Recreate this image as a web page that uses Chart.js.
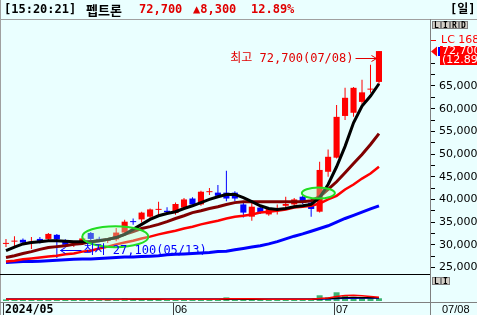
<!DOCTYPE html>
<html>
<head>
<meta charset="utf-8">
<script src="https://cdn.jsdelivr.net/npm/chart.js@4.4.1/dist/chart.umd.min.js"></script>
<style>
  body { margin: 0; background: #eaffff; }
  canvas { display: block; }
</style>
</head>
<body>
<canvas id="chart" width="477" height="315"></canvas>
<script>
// 펩트론 daily candles, 2024/05/02 ~ 2024/07/08
const dates = ["05/02","05/03","05/07","05/08","05/09","05/10","05/13","05/14","05/16","05/17",
  "05/20","05/21","05/22","05/23","05/24","05/27","05/28","05/29","05/30","05/31",
  "06/03","06/04","06/05","06/07","06/10","06/11","06/12","06/13","06/14","06/17",
  "06/18","06/19","06/20","06/21","06/24","06/25","06/26","06/27","06/28",
  "07/01","07/02","07/03","07/04","07/05","07/08"];

const opens  = [30200,30700,31100,30500,31300,31300,32200,31000,30000,30500,32600,31300,30900,31200,32700,35200,35600,36200,37700,37500,
  37000,38200,40200,38900,41600,41500,41500,41500,38900,36200,38200,36700,37900,38600,38900,40600,39300,37300,46100,49200,58400,59100,61500,64200,65900];
const highs  = [31300,31900,31400,31700,31700,32600,32400,31200,30500,31800,32800,31800,31500,33700,35500,35800,37300,38000,39500,38300,
  39300,40300,40500,41900,42500,43200,46300,41800,39300,39500,38500,38300,38900,40600,40300,40800,40000,48300,51000,60800,64600,64800,66400,69700,72700];
const lows   = [29500,29700,30000,29100,30300,31000,27100,29700,29500,30300,31000,30600,30400,30800,32400,34400,34900,35800,36200,36800,
  36600,38000,38400,38600,41000,40500,39600,39600,36000,35300,36800,36400,36700,37600,38500,39000,36200,37100,45000,49000,57500,58200,60900,63500,65400];
const closes = [30300,30800,30500,30600,30600,32400,31200,30000,30100,31400,31300,31100,31200,32700,35100,35000,37100,37800,37800,37200,
  39000,40000,38900,41700,41700,40800,40200,40200,37100,38400,37100,38000,38000,39000,40000,39300,37900,46500,49400,58200,62400,64600,63600,64400,72700];

// moving averages as drawn on the chart
const ma5  = [28700,29500,30200,30500,30700,30900,30900,30800,30700,30700,30700,30900,31200,31600,32300,33400,34500,35600,36400,36900,
  37300,38000,38600,39300,40000,40600,41100,41100,40400,39500,38600,38000,37800,38000,38400,38600,38900,40400,43300,47200,51700,56900,60600,62800,65500];
const ma10 = [27200,27600,28100,28500,29000,29400,29600,29800,30100,30300,30700,30900,31200,31600,32300,32900,33600,34000,34500,35100,
  35800,36400,37100,37500,38000,38400,38900,39300,39500,39500,39500,39500,39500,39500,39500,39500,39700,40600,42200,43900,45900,47900,49900,52100,54500];
const ma20 = [26300,26500,26800,27000,27200,27400,27600,27900,28100,28500,28700,29200,29600,30100,30500,30900,31400,31800,32300,32700,
  33100,33600,34000,34500,34900,35300,35800,36200,36400,36700,37100,37300,37500,37800,38200,38400,38600,39100,40000,40800,42200,43300,44600,45700,47200];
const ma60 = [26100,26200,26300,26300,26400,26500,26600,26700,26800,26900,26900,27000,27100,27200,27300,27300,27400,27500,27600,27800,
  27900,28000,28100,28200,28300,28500,28600,28900,29200,29500,29800,30200,30700,31300,31900,32400,33000,33600,34200,35000,35800,36500,37200,37900,38600];

// volume (thousand shares) and its averages
const volumes = [62,66,60,64,58,70,72,60,55,62,66,58,60,75,105,70,68,72,65,60,
  64,62,66,70,60,72,140,75,70,66,62,60,58,64,70,68,80,220,140,335,220,160,140,120,105];
const volMa5  = [64,64,63,64,63,65,66,65,64,63,64,63,62,64,72,75,76,78,74,66,
  64,63,64,65,66,66,82,84,85,83,80,66,65,64,65,66,70,100,120,170,215,225,205,175,145];
const volMa10 = [65,65,64,65,64,65,66,65,65,64,66,66,65,66,70,70,71,70,69,68,
  67,66,66,67,66,67,72,73,72,72,71,68,67,68,68,67,70,85,95,110,125,130,128,127,127];
const volMa20 = [66,66,66,65,65,66,66,65,65,65,66,66,66,66,67,68,68,68,68,68,
  68,67,67,67,67,67,70,70,71,71,71,70,70,70,70,70,72,80,85,95,105,110,113,115,117];

const priceTicks = [25000,27500,30000,32500,35000,37500,40000,42500,45000,47500,50000,52500,55000,57500,60000,62500,65000,67500,70000];
const dateTickIdx = [0, 20, 39];
const dateTickText = ["2024/05", "06", "07"];

const stockName = "펩트론";
const quoteTime = "[15:20:21]";
const lastPrice = 72700;
const priceChange = 8300;
const changePct = 12.89;

const RED = "#ff0000", BLUE = "#0000ff";
const idx = closes.map((_, i) => i);
const candleColor = idx.map(i => (closes[i] >= opens[i] ? RED : BLUE));
const pts = arr => arr.map((v, i) => ({ x: i, y: v }));
const fmt = v => v.toLocaleString("en-US");

function lineSet(data, color, width, order, axis) {
  return {
    type: "line", data: pts(data), borderColor: color, borderWidth: width,
    pointRadius: 0, tension: 0, order: order, yAxisID: axis || "y",
  };
}

const decor = {
  id: "decor",
  beforeDraw(chart) {
    const c = chart.ctx;
    c.save();
    c.fillStyle = "#eaffff";
    c.fillRect(0, 0, chart.width, chart.height);
    c.restore();
  },
  afterDatasetsDraw(chart) {
    const c = chart.ctx, xs = chart.scales.x, ys = chart.scales.y;
    c.save();
    // green circles
    [[12.9, 31800, 3.9, 10.5], [36.85, 41400, 1.95, 5.5]].forEach(([i, p, ri, ry]) => {
      const cx = xs.getPixelForValue(i), cy = ys.getPixelForValue(p);
      const rx = xs.getPixelForValue(i + ri) - cx;
      c.beginPath();
      c.ellipse(cx, cy, rx, ry, 0, 0, Math.PI * 2);
      c.fillStyle = "rgba(190,255,190,0.35)";
      c.fill();
      c.strokeStyle = "#22dd22";
      c.lineWidth = 2;
      c.stroke();
    });

    c.font = '12px "DejaVu Sans Mono", "Noto Sans CJK KR"';
    c.textBaseline = "middle";
    c.lineWidth = 1;
    // highest
    let hi = 0, lo = 0;
    idx.forEach(i => { if (highs[i] > highs[hi]) hi = i; if (lows[i] < lows[lo]) lo = i; });
    const hx = Math.round(xs.getPixelForValue(hi)) - 2.5, hy = Math.round(ys.getPixelForValue(highs[hi])) + 7.5;
    c.strokeStyle = "#e00000"; c.fillStyle = "#e00000";
    c.beginPath();
    c.moveTo(hx - 21, hy); c.lineTo(hx, hy);
    c.moveTo(hx - 5, hy - 3); c.lineTo(hx, hy); c.lineTo(hx - 5, hy + 3);
    c.stroke();
    c.textAlign = "right";
    c.fillText("최고 " + fmt(highs[hi]) + "(" + dates[hi] + ")", hx - 23, hy);
    // lowest
    const lx = Math.round(xs.getPixelForValue(lo)) + 3.5, ly = Math.round(ys.getPixelForValue(lows[lo])) - 7.5;
    c.strokeStyle = "#0000ff"; c.fillStyle = "#0000ff";
    c.beginPath();
    c.moveTo(lx + 21, ly); c.lineTo(lx, ly);
    c.moveTo(lx + 5, ly - 3); c.lineTo(lx, ly); c.lineTo(lx + 5, ly + 3);
    c.stroke();
    c.textAlign = "left";
    c.fillText("최저 " + fmt(lows[lo]) + "(" + dates[lo] + ")", lx + 23, ly);
    c.restore();
  },
  afterDraw(chart) {
    const c = chart.ctx, xs = chart.scales.x, ys = chart.scales.y;
    const W = chart.width, H = chart.height, area = chart.chartArea;
    c.save();
    // header
    c.fillStyle = "#eaffff";
    c.fillRect(0, 0, W, 19);
    c.strokeStyle = "#a0a0a0";
    c.lineWidth = 1;
    c.beginPath();
    c.moveTo(0, 19.5); c.lineTo(W, 19.5);
    c.moveTo(0.5, 0); c.lineTo(0.5, H);
    c.stroke();
    c.textBaseline = "middle";
    c.textAlign = "left";
    c.font = 'bold 12px "DejaVu Sans Mono"';
    c.fillStyle = "#000";
    c.fillText(quoteTime, 4, 10);
    c.font = 'bold 13px "Noto Sans CJK KR"';
    c.fillText(stockName, 86, 10);
    c.font = 'bold 12px "DejaVu Sans Mono"';
    c.fillStyle = "#e00000";
    c.fillText(fmt(lastPrice), 139, 10);
    c.fillText("▲" + fmt(priceChange), 193, 10);
    c.fillText(changePct.toFixed(2) + "%", 251, 10);
    c.fillStyle = "#000";
    c.font = 'bold 12px "DejaVu Sans Mono", "Noto Sans CJK KR"';
    c.fillText("[일]", 450, 10);

    // panel separators
    c.strokeStyle = "#000";
    c.beginPath();
    c.moveTo(0, 274.5); c.lineTo(area.right, 274.5);
    c.stroke();
    c.strokeStyle = "#808080";
    c.beginPath();
    c.moveTo(0, 302.5); c.lineTo(W, 302.5);
    c.moveTo(area.right + 0.5, 19); c.lineTo(area.right + 0.5, H);
    c.stroke();

    // small buttons
    const btn = (letters, x0, y0) => letters.forEach((t, k) => {
      const bx = x0 + k * 9;
      c.fillStyle = "#d4d0c8";
      c.fillRect(bx, y0, 9, 8);
      c.strokeStyle = "#808080";
      c.strokeRect(bx + 0.5, y0 + 0.5, 8, 7);
      c.fillStyle = "#000";
      c.font = 'bold 8px "DejaVu Sans Mono"';
      c.textAlign = "center";
      c.fillText(t, bx + 4.5, y0 + 4.5);
    });
    btn(["L", "I", "R", "D"], 432, 21);
    btn(["L", "I"], 432, 277);

    // LC marker
    c.textAlign = "left";
    c.strokeStyle = RED;
    c.beginPath();
    c.moveTo(431, 40.5); c.lineTo(436, 40.5);
    c.stroke();
    c.fillStyle = RED;
    c.font = '11px "DejaVu Sans"';
    c.fillText("LC 168", 441, 40);

    // current price box
    const py = Math.round(ys.getPixelForValue(lastPrice));
    c.fillStyle = RED;
    c.fillRect(440, py - 5, W - 440, 19);
    c.beginPath();
    c.moveTo(431, py + 0.5); c.lineTo(437, py - 4.5); c.lineTo(437, py + 5.5);
    c.closePath();
    c.fill();
    c.fillStyle = BLUE;
    c.fillRect(438, py - 4, 2, 9);
    c.fillStyle = "#fff";
    c.fillText(fmt(lastPrice), 442, py);
    c.fillText("(" + changePct.toFixed(2) + "%)", 442, py + 9.5);

    // dates
    c.strokeStyle = "#404040";
    c.fillStyle = "#000";
    c.textBaseline = "alphabetic";
    dateTickIdx.forEach((i, k) => {
      const tx = Math.round(xs.getPixelForValue(i)) - 2.5;
      c.beginPath();
      c.moveTo(tx, 303); c.lineTo(tx, H);
      c.stroke();
      c.font = k === 0 ? 'bold 11.5px "DejaVu Sans Mono"' : '11px "Liberation Sans"';
      c.fillText(dateTickText[k], tx + 1.5, 313);
    });
    c.font = '11px "Liberation Sans"';
    c.fillText(dates[dates.length - 1], 442, 313);
    c.restore();
  }
};

new Chart(document.getElementById("chart"), {
  type: "bar",
  data: {
    datasets: [
      lineSet(ma5, "#000000", 3, 1),
      lineSet(ma10, "#800000", 3, 2),
      lineSet(ma20, "#ff0000", 2.5, 3),
      lineSet(ma60, "#0000ff", 3, 4),
      {
        type: "bar", data: idx.map(i => ({ x: i, y: [opens[i], closes[i]] })),
        backgroundColor: candleColor, maxBarThickness: 7, minBarLength: 1,
        grouped: false, order: 5, yAxisID: "y",
      },
      {
        type: "bar", data: idx.map(i => ({ x: i, y: [lows[i], highs[i]] })),
        backgroundColor: candleColor, maxBarThickness: 1,
        grouped: false, order: 6, yAxisID: "y",
      },
      lineSet(volMa5, "#ff0000", 1.5, 7, "yv"),
      lineSet(volMa10, "#000000", 1.5, 8, "yv"),
      lineSet(volMa20, "#0000ff", 1.5, 9, "yv"),
      {
        type: "bar", data: pts(volumes), backgroundColor: "#3cb371",
        maxBarThickness: 6, grouped: false, order: 10, yAxisID: "yv",
      },
    ],
  },
  options: {
    responsive: false,
    devicePixelRatio: 1,
    animation: false,
    events: [],
    layout: { padding: { top: 20, bottom: 13, left: 2, right: 0 } },
    plugins: { legend: { display: false }, tooltip: { enabled: false } },
    scales: {
      x: { type: "linear", min: -0.47, max: 50.02, offset: false, display: false },
      y: {
        type: "linear",
        position: "right",
        min: 17397,
        max: 79545,
        afterFit: s => { s.width = 47; },
        afterBuildTicks: s => { s.ticks = priceTicks.map(v => ({ value: v })); },
        ticks: {
          autoSkip: false,
          padding: 4,
          color: "#000",
          font: { family: "DejaVu Sans", size: 11 },
          callback: v => (v % 5000 === 0 && v <= 65000 ? fmt(v) : ""),
        },
        grid: { drawOnChartArea: false, drawTicks: true, tickLength: 5, tickColor: "#000" },
        border: { display: true, color: "#808080" },
      },
      yv: { type: "linear", position: "right", display: false, min: -38.5, max: 10808 },
    },
  },
  plugins: [decor],
});
</script>
</body>
</html>
